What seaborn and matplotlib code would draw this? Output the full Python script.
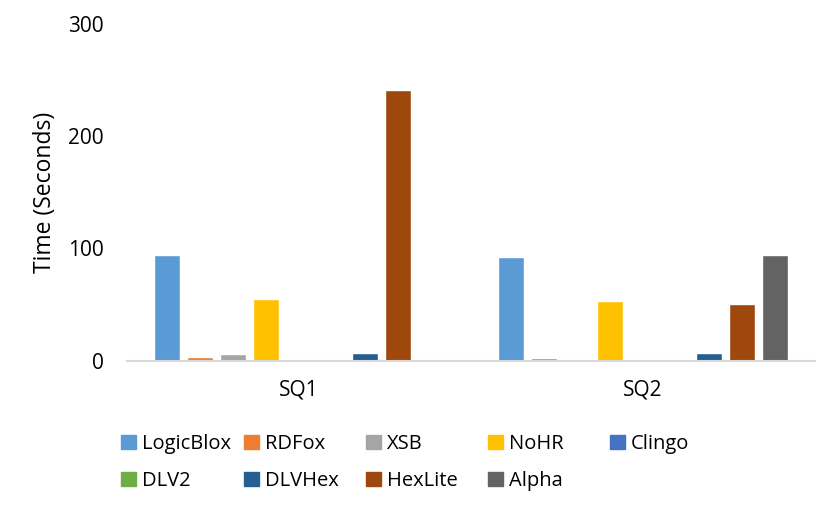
import pandas as pd
import matplotlib
matplotlib.use("Agg")
import matplotlib.pyplot as plt
import matplotlib.patches as mpatches
import seaborn as sns

# query names and systems
queries = ['SQ1', 'SQ2']
systems = ['LogicBlox', 'RDFox', 'XSB', 'NoHR', 'Clingo', 'DLV2', 'DLVHex', 'HexLite', 'Alpha']
colors = ['#5B9BD5', '#ED7D31', '#A5A5A5', '#FFC000', '#4472C4', '#70AD47', '#255E91', '#9E480E', '#636363']

# time in seconds, one list per query (same order as systems)
sq1_times = [94, 3.5, 6, 55, 0, 0, 7.5, 241, 0]
sq2_times = [92.5, 3, 0, 53, 0, 0, 7.5, 50.5, 94.5]

# long format dataframe for seaborn
rows = []
for q, times in zip(queries, [sq1_times, sq2_times]):
    for s, t in zip(systems, times):
        rows.append({'query': q, 'system': s, 'time': t})
df = pd.DataFrame(rows)

sns.set_style('white')
plt.rcParams['font.family'] = ['Open Sans', 'DejaVu Sans']
plt.rcParams['text.color'] = 'black'
plt.rcParams['axes.labelcolor'] = 'black'
plt.rcParams['xtick.color'] = 'black'
plt.rcParams['ytick.color'] = 'black'

fig = plt.figure(figsize=(8.38, 5.15), dpi=100)
ax = fig.add_axes([127/838, 1 - 361/515, 688/838, 337.5/515])

sns.barplot(data=df, x='query', y='time', hue='system', order=queries,
            hue_order=systems, palette=colors, saturation=1, width=0.863,
            gap=0.21, errorbar=None, ax=ax, legend=False)

ax.set_ylim(0, 300)
ax.set_xlim(-0.5, 1.5)
ax.set_yticks([0, 100, 200, 300])
ax.set_xlabel('')
ax.set_ylabel('Time (Seconds)', fontsize=16.5, labelpad=8)
ax.tick_params(axis='y', length=0, labelsize=15, pad=17)
ax.tick_params(axis='x', length=0, labelsize=15, pad=13)

for side in ['top', 'right', 'left']:
    ax.spines[side].set_visible(False)
ax.spines['bottom'].set_color('#D9D9D9')
ax.spines['bottom'].set_linewidth(1.5)

# legend: 5 equally spaced columns, filled row by row
ncol = 5
col_x = [121, 244, 366, 488, 610]
for c in range(ncol):
    idx = [i for i in range(len(systems)) if i % ncol == c]
    handles = [mpatches.Patch(color=colors[i], label=systems[i]) for i in idx]
    fig.legend(handles=handles, loc='upper left',
               bbox_to_anchor=(col_x[c] / 838, 1 - 434 / 515),
               frameon=False, fontsize=14.5, borderpad=0, borderaxespad=0,
               handlelength=0.75, handleheight=0.75, handletextpad=0.3,
               labelspacing=0.85)

fig.savefig('out.png', dpi=100)
